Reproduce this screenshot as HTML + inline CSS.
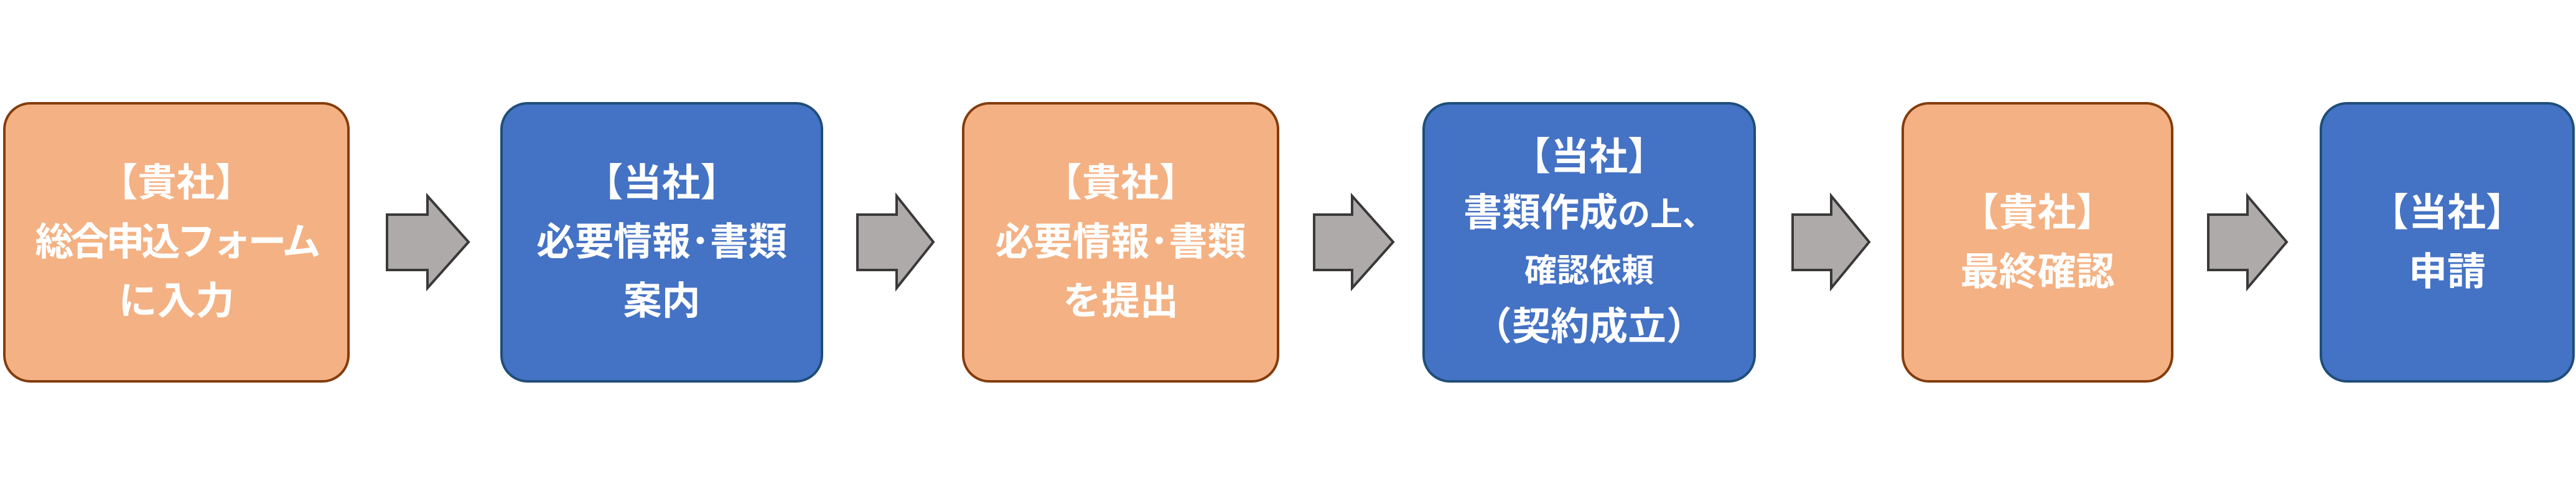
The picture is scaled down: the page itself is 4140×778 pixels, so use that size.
<!DOCTYPE html>
<html><head><meta charset="utf-8"><style>
html,body{margin:0;padding:0;background:#fff;}
body{width:4140px;height:778px;position:relative;overflow:hidden;font-family:"Liberation Sans","Noto Sans CJK JP",sans-serif;}
.b{position:absolute;top:164px;height:451px;box-sizing:border-box;border:4px solid;border-radius:44px;display:flex;flex-direction:column;align-items:center;justify-content:center;color:#fff;font-weight:bold;font-size:62px;line-height:95px;text-align:center;white-space:nowrap;}
.o{background:#F4B183;border-color:#843C0C;}
.u{background:#4472C4;border-color:#1F4E79;}
.s{font-size:52px;}
svg{position:absolute;left:0;top:0;}
</style></head><body>
<div class="b o" style="left:5px;width:557px;"><div>【貴社】</div><div style="letter-spacing:-5px;">総合申込フォーム</div><div>に入力</div></div>
<div class="b u" style="left:804px;width:519px;"><div>【当社】</div><div>必要情報･書類</div><div>案内</div></div>
<div class="b o" style="left:1546px;width:510px;"><div>【貴社】</div><div>必要情報･書類</div><div>を提出</div></div>
<div class="b u" style="left:2286px;width:536px;line-height:90px;"><div>【当社】</div><div>書類作成<span class="s">の上、</span></div><div class="s">確認依頼</div><div>（契約成立）</div></div>
<div class="b o" style="left:3056px;width:437px;"><div>【貴社】</div><div>最終確認</div></div>
<div class="b u" style="left:3728px;width:410px;"><div>【当社】</div><div>申請</div></div>
<svg width="4140" height="778">
<g fill="#AEAAAA" stroke="#3A3838" stroke-width="4">
<polygon points="622,345 687,345 687,315 753,389 687,463 687,434 622,434"/>
<polygon points="1378,345 1441,345 1441,315 1500,389 1441,463 1441,434 1378,434"/>
<polygon points="2112,345 2173,345 2173,315 2239,389 2173,463 2173,434 2112,434"/>
<polygon points="2881,345 2943,345 2943,315 3004,389 2943,463 2943,434 2881,434"/>
<polygon points="3549,345 3612,345 3612,315 3675,389 3612,463 3612,434 3549,434"/>
</g></svg>
</body></html>
